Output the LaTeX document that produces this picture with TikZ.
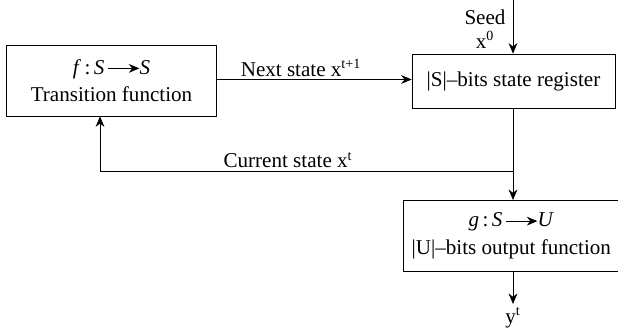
\documentclass[tikz,border=0pt]{standalone}
\usepackage{fontspec}
\setmainfont{Liberation Serif}
\usetikzlibrary{arrows.meta}

\newcommand{\maparr}{\tikz[baseline=-0.6ex, x=1cm, y=1cm]\draw[-{Stealth[length=6pt,width=5pt]}] (0,0) -- (0.62,0);}

\tikzset{
  blockbox/.style={draw, rectangle, align=center, inner sep=0pt},
  flow/.style={-{Stealth[length=6pt,width=5pt]}},
}

\begin{document}
\begin{tikzpicture}[x=0.02cm, y=-0.02cm, font=\fontsize{12}{15.5}\selectfont]
        \useasboundingbox (0,0) rectangle (618,330);

        \node[blockbox, minimum width=4.2cm, minimum height=1.42cm] (trans) at (111.5, 80.5)
            {\textit{f}\,:\,\textit{S}\,\maparr\textit{S}\\Transition function};
        \node[blockbox, minimum width=4.06cm, minimum height=1.08cm] (reg) at (513.5, 81)
            {|S|--bits state register};
        \node[blockbox, minimum width=4.32cm, minimum height=1.42cm, anchor=north west] (out) at (403, 200)
            {\textit{g}\,:\,\textit{S}\,\maparr\textit{U}\\|U|--bits output function};

        \coordinate (seed) at (513, 0);
        \coordinate (split) at (513, 171.5);
        \coordinate (back) at (100, 171.5);
        \coordinate (yout) at (513, 304);

        \draw[flow] (seed) -- (seed |- reg.north);
        \draw[flow] (trans.east |- 0, 79.5) -- (reg.west |- 0, 79.5);
        \draw[flow] (reg.south -| split) -- (out.north -| split);
        \draw[flow] (split) -- (back) -- (back |- trans.south);
        \draw[flow] (out.south -| yout) -- (yout);

        \node[align=center, inner sep=0pt] (seedlbl) at (485, 29) {Seed\\[-2pt]x\textsuperscript{0}};
        \node[inner sep=0pt] (nextlbl) at (301, 68) {Next state x\textsuperscript{t+1}};
        \node[inner sep=0pt] (curlbl) at (288, 160) {Current state x\textsuperscript{t}};
        \node[inner sep=0pt] (ylbl) at (513, 318) {y\textsuperscript{t}};
    \end{tikzpicture}
\end{document}
